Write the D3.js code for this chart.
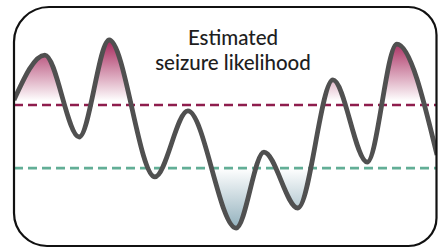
<!DOCTYPE html>
<html>
<head>
<meta charset="utf-8">
<script src="https://cdn.jsdelivr.net/npm/d3@7"></script>
<style>
  body { margin: 0; background: #fff; }
  svg { display: block; }
</style>
</head>
<body>
<script>
var outerWidth = 438;
var outerHeight = 249;

// time along the window (0-100) and estimated likelihood (0-100)
var times = [0, 7.3, 15.4, 22.5, 33.3, 41.1, 52.5, 59.1, 67.1, 75.4, 83.5, 90.5, 100];
var likelihood = [61.1, 79.9, 45.6, 86.2, 28.9, 56.5, 7.5, 39.3, 15.9, 69.5, 35.1, 84.5, 38.1];
var highThreshold = 59.0;
var lowThreshold = 32.6;
var titleLines = ['Estimated', 'seizure likelihood'];

var data = times.map(function(t, i){ return {t: t, v: likelihood[i]}; });

var frame = {left: 14, top: 7, right: 436.5, bottom: 246};

var x = d3.scaleLinear().domain([0, 100]).range([frame.left, frame.right + 0.5]);
var y = d3.scaleLinear().domain([0, 100]).range([246, 7]);

var svg = d3.select('body').append('svg')
  .attr('width', outerWidth)
  .attr('height', outerHeight);

var defs = svg.append('defs');

// frame outline with uneven corner radii
function framePath(){
  var l = frame.left, t = frame.top, r = frame.right, b = frame.bottom;
  var tl = 35, tr = 28, br = 28, bl = 33;
  var p = d3.path();
  p.moveTo(l + tl, t);
  p.lineTo(r - tr, t);
  p.arcTo(r, t, r, t + tr, tr);
  p.lineTo(r, b - br);
  p.arcTo(r, b, r - br, b, br);
  p.lineTo(l + bl, b);
  p.arcTo(l, b, l, b - bl, bl);
  p.lineTo(l, t + tl);
  p.arcTo(l, t, l + tl, t, tl);
  p.closePath();
  return p.toString();
}

defs.append('clipPath').attr('id', 'frameClip')
  .append('path').attr('d', framePath());

defs.append('clipPath').attr('id', 'aboveHigh')
  .append('rect')
  .attr('x', 0).attr('y', 0)
  .attr('width', outerWidth).attr('height', y(highThreshold));

defs.append('clipPath').attr('id', 'belowLow')
  .append('rect')
  .attr('x', 0).attr('y', y(lowThreshold))
  .attr('width', outerWidth).attr('height', outerHeight - y(lowThreshold));

var redGrad = defs.append('linearGradient')
  .attr('id', 'redGrad')
  .attr('gradientUnits', 'userSpaceOnUse')
  .attr('x1', 0).attr('x2', 0)
  .attr('y1', y(88)).attr('y2', y(highThreshold) - 4);
redGrad.append('stop').attr('offset', 0).attr('stop-color', '#a0164f');
redGrad.append('stop').attr('offset', 1).attr('stop-color', '#ffffff');

var blueGrad = defs.append('linearGradient')
  .attr('id', 'blueGrad')
  .attr('gradientUnits', 'userSpaceOnUse')
  .attr('x1', 0).attr('x2', 0)
  .attr('y1', y(lowThreshold)).attr('y2', y(6));
blueGrad.append('stop').attr('offset', 0).attr('stop-color', '#ffffff');
blueGrad.append('stop').attr('offset', 1).attr('stop-color', '#8cacb9');

var g = svg.append('g').attr('clip-path', 'url(#frameClip)');

var curve = d3.curveMonotoneX;

g.append('g').attr('clip-path', 'url(#aboveHigh)')
  .append('path')
  .datum(data)
  .attr('fill', 'url(#redGrad)')
  .attr('d', d3.area()
    .x(function(d){ return x(d.t); })
    .y0(y(highThreshold))
    .y1(function(d){ return y(d.v); })
    .curve(curve));

g.append('g').attr('clip-path', 'url(#belowLow)')
  .append('path')
  .datum(data)
  .attr('fill', 'url(#blueGrad)')
  .attr('d', d3.area()
    .x(function(d){ return x(d.t); })
    .y0(y(lowThreshold))
    .y1(function(d){ return y(d.v); })
    .curve(curve));

g.append('line')
  .attr('x1', frame.left).attr('x2', outerWidth)
  .attr('y1', y(highThreshold)).attr('y2', y(highThreshold))
  .attr('stroke', '#8e1d4d')
  .attr('stroke-width', 2.6)
  .attr('stroke-dasharray', '9,5');

g.append('line')
  .attr('x1', frame.left).attr('x2', outerWidth)
  .attr('y1', y(lowThreshold)).attr('y2', y(lowThreshold))
  .attr('stroke', '#62ae96')
  .attr('stroke-width', 2.6)
  .attr('stroke-dasharray', '9,5');

g.append('path')
  .datum(data)
  .attr('fill', 'none')
  .attr('stroke', '#505050')
  .attr('stroke-width', 4.8)
  .attr('stroke-linejoin', 'round')
  .attr('d', d3.line()
    .x(function(d){ return x(d.t); })
    .y(function(d){ return y(d.v); })
    .curve(curve));

svg.append('path')
  .attr('d', framePath())
  .attr('fill', 'none')
  .attr('stroke', '#111')
  .attr('stroke-width', 2.2);

svg.selectAll('.title')
  .data(titleLines)
  .enter()
  .append('text')
  .attr('class', 'title')
  .attr('x', 233)
  .attr('y', function(d, i){ return 45 + i * 25; })
  .attr('text-anchor', 'middle')
  .attr('font-family', 'Lato, sans-serif')
  .attr('font-size', 20.5)
  .attr('font-weight', 500)
  .attr('fill', '#1e1e1e')
  .text(function(d){ return d; });
</script>
</body>
</html>
